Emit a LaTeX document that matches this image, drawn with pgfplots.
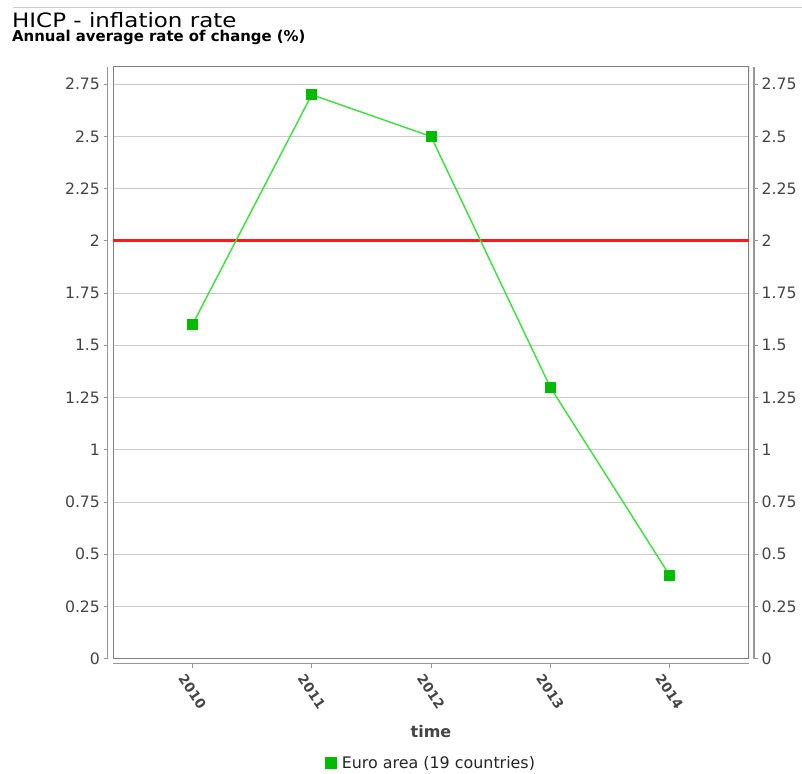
\documentclass[border=0pt]{standalone}
\usepackage{fontspec}
\setmainfont{DejaVu Sans}
\newfontfamily\titlefont{DejaVu Sans}[FakeStretch=1.16]
\usepackage{pgfplots}
\pgfplotsset{compat=1.18}
\definecolor{gridgray}{RGB}{204,204,204}
\definecolor{framegray}{RGB}{128,128,128}
\definecolor{axgray}{RGB}{150,150,150}
\definecolor{ticktext}{RGB}{68,68,68}
\definecolor{linegreen}{RGB}{68,221,68}
\definecolor{markgreen}{RGB}{0,187,0}
\definecolor{reflinered}{RGB}{255,25,25}
\pgfplotsset{common/.style={
  at={(113pt,-658.7pt)}, anchor=south west, scale only axis,
  width=636pt, height=592pt,
  xmin=2009.3333, xmax=2014.6667, ymin=0, ymax=2.834,
  ytick={0,0.25,0.5,0.75,1,1.25,1.5,1.75,2,2.25,2.5,2.75},
  yticklabels={0,0.25,0.5,0.75,1,1.25,1.5,1.75,2,2.25,2.5,2.75},
  tick align=outside, major tick length=4pt,
  axis line style={axgray, line width=1.5pt},
  tick style={axgray, line width=1pt},
  yticklabel style={font=\fontsize{15.7}{18}\selectfont, text=ticktext},
}}
\begin{document}
\begin{tikzpicture}[x=1pt,y=1pt]
\useasboundingbox (0,0) rectangle (802,-773);
\draw[gridgray, line width=1pt] (13,-8) -- (802,-8);
\node[anchor=base west, inner sep=0, font=\titlefont\fontsize{19.8}{24}\selectfont] at (12,-27.7) {HICP - inflation rate};
\node[anchor=base west, inner sep=0, font=\bfseries\fontsize{14.9}{18}\selectfont] at (12,-41.7) {Annual average rate of change (\%)};

\begin{axis}[common,
  axis x line*=bottom, axis y line*=left,
  axis x line shift=5pt, axis y line shift=5.5pt,
  xtick={2010,2011,2012,2013,2014},
  xticklabels={2010,2011,2012,2013,2014},
  xticklabel style={font=\bfseries\fontsize{13.5}{16}\selectfont, text=ticktext, anchor=center, yshift=-24pt, rotate=-56},
  ymajorgrids, grid style={gridgray, line width=1pt},
  xlabel={time},
  xlabel style={at={(axis description cs:0.5,-0.1331)}, anchor=base, font=\bfseries\fontsize{16}{19}\selectfont, text=ticktext},
  legend style={draw=none, at={(0.5,-0.176)}, anchor=center, font=\fontsize{15.9}{19}\selectfont, text=black!85},
  legend image code/.code={\fill[markgreen] (0pt,-5pt) rectangle (10pt,5pt); \path[draw=none, fill=none] (10pt,0pt) -- (14pt,0pt);},
]
\draw[framegray, line width=1.3pt] (rel axis cs:0,0) rectangle (rel axis cs:1,1);
\addplot[reflinered, line width=3pt, forget plot] coordinates {(2009.3333,2) (2014.6667,2)};
\addplot[linegreen, line width=1.5pt, mark=square*, mark size=5pt,
  mark options={solid, fill=markgreen, draw=markgreen, line width=0pt}]
  coordinates {(2010,1.6) (2011,2.7) (2012,2.5) (2013,1.3) (2014,0.4)};
\addlegendentry{Euro area (19 countries)}
\end{axis}

\begin{axis}[common, hide x axis,
  axis y line*=right, axis y line shift=5pt,
  yticklabel style={anchor=west}]
\addplot[draw=none, forget plot] coordinates {(2010,1)};
\end{axis}
\end{tikzpicture}
\end{document}
